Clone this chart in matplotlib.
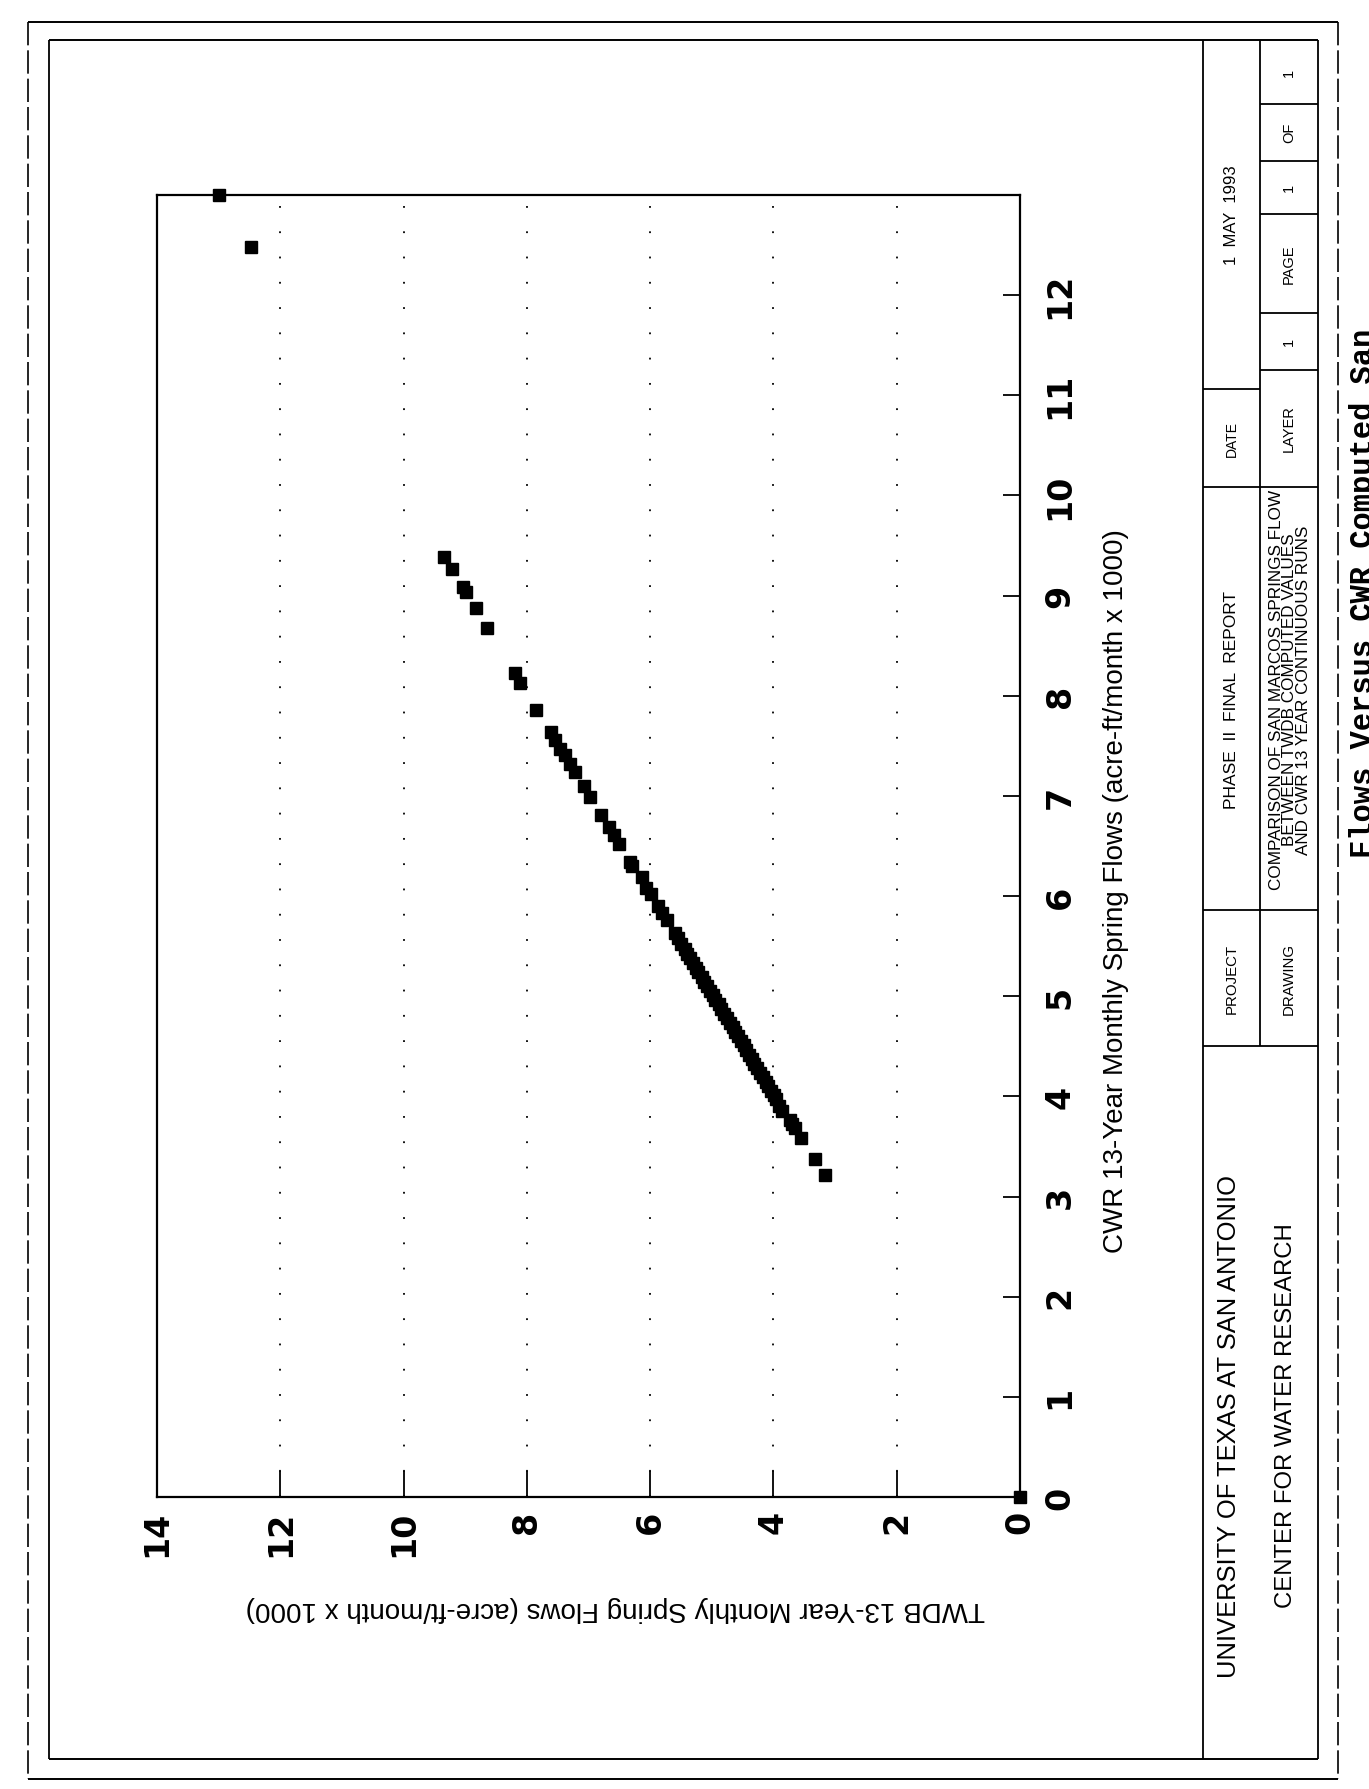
import matplotlib
matplotlib.use('Agg')
import matplotlib.pyplot as plt

# values (acre-ft/month x 1000)
# cwr = vertical axis on the page, twdb = horizontal axis on the page
cwr = [13.0, 12.48,
       9.39, 9.27, 9.09, 9.04, 8.88, 8.68, 8.23, 8.13, 7.86, 7.64,
       7.56, 7.47, 7.41, 7.32, 7.24, 7.10, 6.99, 6.81, 6.69, 6.61,
       6.52, 6.34, 6.30, 6.19, 6.08, 6.02, 5.90, 5.83, 5.76,
       5.63, 5.58, 5.52, 5.47, 5.42, 5.38, 5.33, 5.28, 5.24, 5.19,
       5.14, 5.10, 5.05, 5.01, 4.96, 4.92, 4.87, 4.82, 4.78, 4.73,
       4.69, 4.64, 4.60, 4.55, 4.51, 4.46, 4.41, 4.37, 4.32, 4.28,
       4.23, 4.19, 4.14, 4.10, 4.05, 4.01, 3.97,
       3.90, 3.85, 3.76, 3.72, 3.68, 3.58, 3.37, 3.22,
       0.0]
twdb = [13.0, 12.48,
        9.34, 9.22, 9.04, 8.98, 8.83, 8.64, 8.19, 8.11, 7.85, 7.61,
        7.54, 7.46, 7.38, 7.30, 7.22, 7.07, 6.97, 6.79, 6.66, 6.58,
        6.50, 6.32, 6.29, 6.14, 6.06, 5.98, 5.88, 5.80, 5.72,
        5.59, 5.55, 5.50, 5.44, 5.40, 5.35, 5.31, 5.25, 5.22, 5.16,
        5.12, 5.07, 5.03, 4.98, 4.94, 4.89, 4.85, 4.80, 4.76, 4.71,
        4.66, 4.62, 4.57, 4.53, 4.48, 4.44, 4.40, 4.35, 4.31, 4.26,
        4.22, 4.17, 4.12, 4.08, 4.04, 3.99, 3.96,
        3.91, 3.86, 3.73, 3.70, 3.65, 3.55, 3.32, 3.16,
        0.0]

cwr_ticks = list(range(0, 13))
twdb_ticks = list(range(0, 15, 2))
grid_at = [2, 4, 6, 8, 10, 12]

xlabel = 'CWR 13-Year Monthly Spring Flows (acre-ft/month x 1000)'
ylabel = 'TWDB 13-Year Monthly Spring Flows (acre-ft/month x 1000)'
caption = 'Flows Versus CWR Computed San'

W, H = 1369, 1790

plt.rcParams['font.family'] = 'Liberation Sans'

fig = plt.figure(figsize=(W / 100, H / 100), dpi=100)

# page overlay in pixel coordinates (y down)
page = fig.add_axes([0, 0, 1, 1], zorder=0)
page.set_xlim(0, W)
page.set_ylim(H, 0)
page.axis('off')


def seg(x0, y0, x1, y1, lw=1.3, ls='-'):
    page.plot([x0, x1], [y0, y1], color='black', lw=lw, ls=ls, solid_capstyle='butt')


# outer and inner border
seg(28, 23, 1338, 23, lw=1.4)
seg(28, 1780, 1338, 1780, lw=1.4)
seg(28, 23, 28, 1780, lw=1.2, ls=(0, (14, 3)))
seg(1338, 23, 1338, 1780, lw=1.2, ls=(0, (14, 3)))
seg(49, 41, 1318, 41, lw=1.4)
seg(49, 1760, 1318, 1760, lw=1.4)
seg(49, 41, 49, 1760, lw=1.3)
seg(1318, 41, 1318, 1760, lw=1.3)

# title block
tl, tm, tr = 1203, 1260, 1318
seg(tl, 41, tl, 1760)
seg(tm, 41, tm, 1047)
for y in [488, 911, 1047]:
    seg(tl, y, tr, y)
seg(tl, 390, tm, 390)
for y in [105, 162, 215, 314, 371]:
    seg(tm, y, tr, y)

xl, xr = (tl + tm) / 2, (tm + tr) / 2
cell = dict(rotation=90, ha='center', va='center')
page.text(xl, 215, '1  MAY  1993', fontsize=12, **cell)
page.text(xl, 439, 'DATE', fontsize=10, **cell)
page.text(xl, 700, 'PHASE  II  FINAL  REPORT', fontsize=12.5, **cell)
page.text(xl, 979, 'PROJECT', fontsize=10.8, **cell)
page.text(xr, 73, '1', fontsize=10.5, **cell)
page.text(xr, 133, 'OF', fontsize=10.5, **cell)
page.text(xr, 188, '1', fontsize=10.5, **cell)
page.text(xr, 264, 'PAGE', fontsize=10.5, **cell)
page.text(xr, 342, '1', fontsize=10.5, **cell)
page.text(xr, 429, 'LAYER', fontsize=10.5, **cell)
page.text(xr + 1, 690, 'COMPARISON OF SAN MARCOS SPRINGS FLOW\nBETWEEN TWDB COMPUTED VALUES\nAND CWR 13 YEAR CONTINUOUS RUNS',
          fontsize=12.3, linespacing=0.85, multialignment='center', **cell)
page.text(xr, 979, 'DRAWING', fontsize=10.8, **cell)
page.text(xl - 2, 1426, 'UNIVERSITY OF TEXAS AT SAN ANTONIO', fontsize=18.4, **cell)
page.text(xr - 3, 1416, 'CENTER FOR WATER RESEARCH', fontsize=17.2, **cell)

# figure caption, cut off by the page edge
page.text(1349, 593, caption, rotation=90, ha='left', va='center',
          fontsize=22, family='Liberation Mono', fontweight='bold')

# axis titles (the whole plot is turned on its side)
page.text(615, 1609, ylabel, rotation=180, ha='center', va='center', fontsize=20)
page.text(1103, 891, xlabel, rotation=90, ha='left', va='center', fontsize=20)

# the plot itself
ax = fig.add_axes([157 / W, 1 - 1498 / H, 863 / W, 1302 / H], zorder=2)
for g in grid_at:
    ax.axvline(g, color='black', lw=1.3, ls=(0, (1, 13)), zorder=1)
ax.plot(twdb, cwr, 's', ms=8, color='black', clip_on=False, zorder=3)

ax.set_xlim(14, 0)
ax.set_ylim(0, 13)
ax.yaxis.tick_right()
tick_font = dict(family='DejaVu Sans', fontweight='bold', rotation=90)
ax.set_xticks(twdb_ticks)
ax.set_xticklabels([str(t) for t in twdb_ticks], **tick_font)
ax.set_yticks(cwr_ticks)
ax.set_yticklabels([str(t) for t in cwr_ticks], va='center', **tick_font)
ax.tick_params(axis='x', direction='in', length=19, width=1.3, pad=9, labelsize=24)
ax.tick_params(axis='y', direction='in', length=12, width=1.3, pad=17, labelsize=24)
for s in ax.spines.values():
    s.set_linewidth(1.6)

fig.savefig('out.png', dpi=100)
